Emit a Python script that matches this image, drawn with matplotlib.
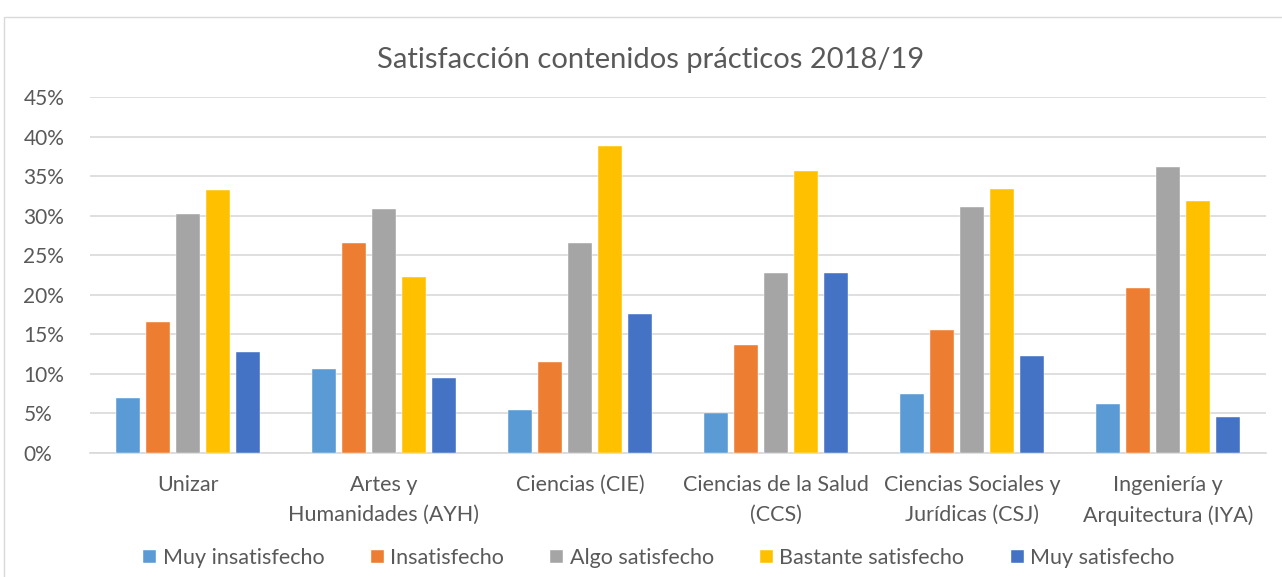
import matplotlib
matplotlib.use('Agg')
import matplotlib.pyplot as plt
import numpy as np
from matplotlib.patches import Rectangle

# datos
categorias = ['Unizar', 'Artes y\nHumanidades (AYH)', 'Ciencias (CIE)',
              'Ciencias de la Salud\n(CCS)', 'Ciencias Sociales y\nJurídicas (CSJ)',
              'Ingeniería y\nArquitectura (IYA)']
series = ['Muy insatisfecho', 'Insatisfecho', 'Algo satisfecho',
          'Bastante satisfecho', 'Muy satisfecho']
muy_insatisfecho = [7.0, 10.6, 5.4, 5.1, 7.5, 6.2]
insatisfecho = [16.6, 26.6, 11.5, 13.6, 15.5, 20.9]
algo_satisfecho = [30.2, 30.8, 26.5, 22.7, 31.1, 36.1]
bastante_satisfecho = [33.3, 22.3, 38.8, 35.7, 33.4, 31.9]
muy_satisfecho = [12.8, 9.5, 17.6, 22.7, 12.2, 4.6]
colores = ['#5B9BD5', '#ED7D31', '#A5A5A5', '#FFC000', '#4472C4']

plt.rcParams['font.family'] = ['Lato', 'DejaVu Sans']
gris = '#595959'

fig = plt.figure(figsize=(12.82, 5.77), dpi=100)
W, H = 1282, 577
ax = fig.add_axes([90 / W, (H - 453) / H, 1176 / W, (453 - 97) / H])

datos = [muy_insatisfecho, insatisfecho, algo_satisfecho, bastante_satisfecho, muy_satisfecho]
x = np.arange(len(categorias))
paso = 0.153
ancho = 0.118
for i, (vals, nombre, c) in enumerate(zip(datos, series, colores)):
    ax.bar(x + (i - 2) * paso, vals, ancho, color=c, label=nombre, zorder=3,
           edgecolor='white', linewidth=0.3)

ax.set_xlim(-0.5, len(categorias) - 0.5)
ax.set_ylim(0, 45)
ax.set_yticks(np.arange(0, 46, 5))
ax.set_yticklabels([f'{v}%' for v in range(0, 46, 5)], fontsize=15, color=gris)
ax.set_xticks(x)
ax.set_xticklabels(categorias, fontsize=15.5, color=gris, linespacing=1.6)
ax.tick_params(axis='both', length=0)
ax.tick_params(axis='x', pad=16)
ax.tick_params(axis='y', pad=48)
for lbl in ax.get_yticklabels():
    lbl.set_horizontalalignment('left')
ax.grid(axis='y', color='#D9D9D9', linewidth=1.2, zorder=0)
for s in ['top', 'right', 'left']:
    ax.spines[s].set_visible(False)
ax.spines['bottom'].set_color('#D9D9D9')
ax.spines['bottom'].set_linewidth(1.2)

fig.text(651 / W, 1 - 60 / H, 'Satisfacción contenidos prácticos 2018/19',
         ha='center', va='center', fontsize=21, color=gris)

fig.legend(loc='center', bbox_to_anchor=(659 / W, 1 - 558 / H), ncol=5, frameon=False,
           fontsize=15.5, handlelength=0.6, handleheight=0.6, handletextpad=0.3,
           columnspacing=2.15, labelcolor=gris)

fig.patches.append(Rectangle((4 / W, -0.01), 1.0, (H - 17) / H + 0.01,
                             transform=fig.transFigure, fill=False,
                             edgecolor='#D9D9D9', linewidth=1))

fig.savefig('out.png', dpi=100)
